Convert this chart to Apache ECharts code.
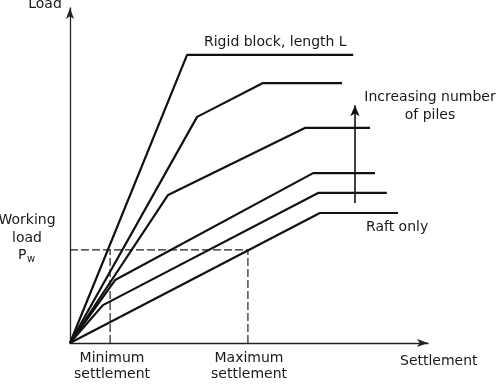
<!DOCTYPE html>
<html>
<head>
<meta charset="utf-8">
<script src="https://cdn.jsdelivr.net/npm/echarts@6/dist/echarts.min.js"></script>
<style>html,body{margin:0;padding:0;background:#fff}#c{width:501px;height:388px}</style>
</head>
<body>
<div id="c"></div>
<script>
// Settlement (x) / Load (y) in arbitrary units (0-100)
var rigidBlock = [[0, 0], [32.7, 86.0], [79.1, 86.0]];
var curve2 = [[0, 0], [35.5, 67.5], [53.9, 77.6], [76.0, 77.6]];
var curve3 = [[0, 0], [27.4, 44.2], [65.6, 64.2], [83.8, 64.2]];
var curve4 = [[0, 0], [12.6, 18.8], [67.9, 50.7], [85.2, 50.7]];
var curve5 = [[0, 0], [9.2, 11.3], [69.3, 44.8], [88.5, 44.8]];
var raftOnly = [[0, 0], [69.8, 38.8], [91.6, 38.8]];
var workingLoad = 27.8;
var minSettlement = 11.2;
var maxSettlement = 49.7;
var pileArrow = {x: 79.6, from: 41.8, to: 71.0};

var chart = echarts.init(document.getElementById('c'), null, {renderer: 'canvas'});
var FONT = 'DejaVu Sans';
var FS = '14px ';
var lineStyle = {color: '#111', width: 2.2};
function curve(data) {
  return {type: 'line', data: data, symbol: 'none', lineStyle: lineStyle, silent: true, animation: false};
}
function guide(data) {
  return {type: 'line', data: data, symbol: 'none', lineStyle: {color: '#222', width: 1.2, type: [8, 3]}, silent: true, animation: false, z: 1};
}
var txt = function (x, y, t, align) {
  return {type: 'text', x: x, y: y, style: {text: t, font: FS + FONT, fill: '#1a1a1a', textAlign: align || 'left', textVerticalAlign: 'middle'}};
};
chart.setOption({
  animation: false,
  grid: {left: 70, right: 73, top: 8, bottom: 45},
  xAxis: {
    type: 'value', min: 0, max: 100,
    axisLine: {lineStyle: {color: '#222', width: 1.3}, symbol: ['none', 'arrow'], symbolSize: [6, 11]},
    axisTick: {show: false}, axisLabel: {show: false}, splitLine: {show: false}
  },
  yAxis: {
    type: 'value', min: 0, max: 100,
    axisLine: {lineStyle: {color: '#222', width: 1.3}, symbol: ['none', 'arrow'], symbolSize: [6, 11]},
    axisTick: {show: false}, axisLabel: {show: false}, splitLine: {show: false}
  },
  series: [
    guide([[0, workingLoad], [maxSettlement, workingLoad]]),
    guide([[minSettlement, 0], [minSettlement, workingLoad]]),
    guide([[maxSettlement, 0], [maxSettlement, workingLoad]]),
    curve(rigidBlock), curve(curve2), curve(curve3), curve(curve4), curve(curve5), curve(raftOnly),
    {
      type: 'line', data: [], silent: true,
      markLine: {
        silent: true, animation: false,
        symbol: ['none', 'arrow'], symbolSize: [7, 11],
        lineStyle: {color: '#111', width: 1.6, type: 'solid'},
        label: {show: false},
        data: [[{coord: [pileArrow.x, pileArrow.from]}, {coord: [pileArrow.x, pileArrow.to]}]]
      }
    }
  ],
  graphic: [
    txt(45, 4, 'Load', 'center'),
    txt(204, 42, 'Rigid block, length L'),
    txt(430, 97, 'Increasing number', 'center'),
    txt(430, 115, 'of piles', 'center'),
    txt(366, 227, 'Raft only'),
    txt(27, 220, 'Working', 'center'),
    txt(27, 238, 'load', 'center'),
    {type: 'text', x: 18, y: 255, style: {text: 'P', font: FS + FONT, fill: '#1a1a1a', textVerticalAlign: 'middle'}},
    {type: 'text', x: 27, y: 259, style: {text: 'w', font: '10px ' + FONT, fill: '#1a1a1a', textVerticalAlign: 'middle'}},
    txt(112, 358, 'Minimum', 'center'),
    txt(112, 374, 'settlement', 'center'),
    txt(249, 358, 'Maximum', 'center'),
    txt(249, 374, 'settlement', 'center'),
    txt(400, 361, 'Settlement')
  ]
});
</script>
</body>
</html>
